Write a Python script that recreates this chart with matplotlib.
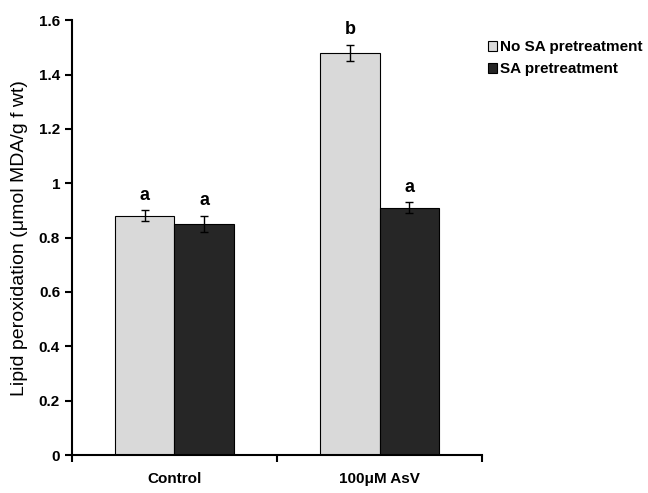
import matplotlib.pyplot as plt
import numpy as np

groups = ['Control', '100μM AsV']
series = ['No SA pretreatment', 'SA pretreatment']
no_sa = [0.88, 1.48]
no_sa_err = [0.02, 0.03]
sa = [0.85, 0.91]
sa_err = [0.03, 0.02]
letters_no_sa = ['a', 'b']
letters_sa = ['a', 'a']

plt.rcParams['font.family'] = ['Liberation Sans', 'DejaVu Sans']

fig = plt.figure(figsize=(6.48, 4.93), dpi=100)
ax = fig.add_axes([0.111, 0.077, 0.633, 0.882])

x = np.arange(len(groups))
w = 0.29
ax.bar(x - w / 2, no_sa, w, color='#d9d9d9', edgecolor='black', linewidth=0.8,
       label=series[0])
ax.bar(x + w / 2, sa, w, color='#262626', edgecolor='black', linewidth=0.8,
       label=series[1])
ax.errorbar(x - w / 2, no_sa, yerr=no_sa_err, fmt='none', ecolor='black',
            elinewidth=1, capsize=3, capthick=1)
ax.errorbar(x + w / 2, sa, yerr=sa_err, fmt='none', ecolor='black',
            elinewidth=1, capsize=3, capthick=1)

for xi, v, e, t in zip(x - w / 2, no_sa, no_sa_err, letters_no_sa):
    ax.text(xi, v + e + 0.025, t, ha='center', va='bottom', fontsize=13, fontweight='bold')
for xi, v, e, t in zip(x + w / 2, sa, sa_err, letters_sa):
    ax.text(xi, v + e + 0.025, t, ha='center', va='bottom', fontsize=13, fontweight='bold')

ax.set_xlim(-0.5, 1.5)
ax.set_ylim(0, 1.6)
ax.set_yticks(np.arange(0, 1.61, 0.2))
ax.set_yticklabels(['0', '0.2', '0.4', '0.6', '0.8', '1', '1.2', '1.4', '1.6'],
                   fontweight='bold', fontsize=11)
ax.set_xticks([-0.5, 0.5, 1.5])
ax.set_xticklabels([])
ax.set_xticks(x, minor=True)
ax.set_xticklabels(groups, minor=True, fontweight='bold', fontsize=11)
ax.tick_params(axis='x', which='minor', length=0, pad=12)
ax.tick_params(axis='both', which='major', direction='out', length=5, width=1.5)
ax.spines['top'].set_visible(False)
ax.spines['right'].set_visible(False)
ax.spines['left'].set_linewidth(1.5)
ax.spines['bottom'].set_linewidth(1.5)
ax.set_ylabel('Lipid peroxidation (μmol MDA/g f wt)', fontsize=14, labelpad=8)

ax.legend(loc='upper left', bbox_to_anchor=(0.98, 0.985), frameon=False,
          handlelength=0.6, handleheight=0.6, handletextpad=0.2, labelspacing=0.5,
          prop={'weight': 'bold', 'size': 11})

fig.savefig('out.png', dpi=100)
